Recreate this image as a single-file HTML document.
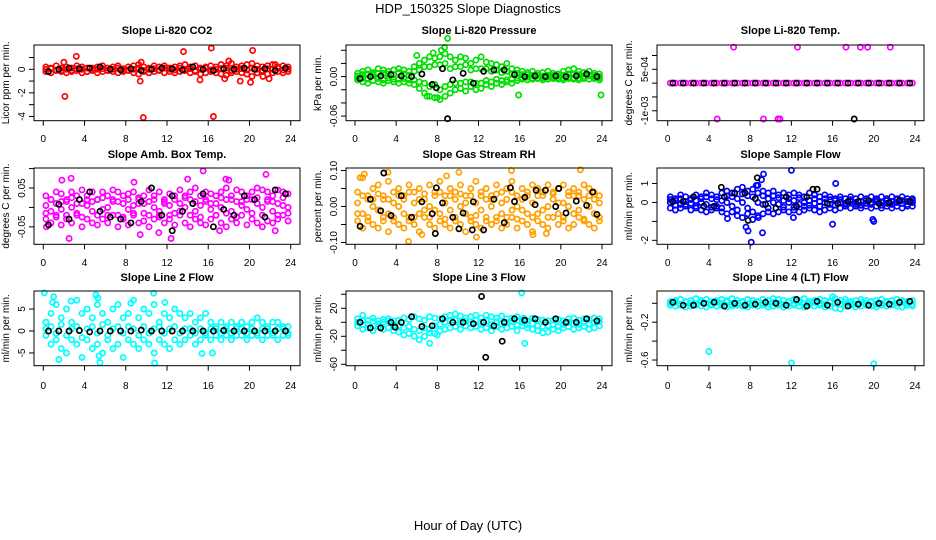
<!DOCTYPE html>
<html><head><meta charset="utf-8"><style>
body{margin:0;background:#fff;}
svg{display:block;font-family:"Liberation Sans",sans-serif;}
</style></head><body>
<svg id="c" width="936" height="540" viewBox="0 0 936 540">
<text x="468" y="13" text-anchor="middle" font-size="13">HDP_150325  Slope Diagnostics</text>
<text x="468" y="530" text-anchor="middle" font-size="13">Hour of Day (UTC)</text>
</svg>
<script>
const X48=[0.25,0.75,1.25,1.75,2.25,2.75,3.25,3.75,4.25,4.75,5.25,5.75,6.25,6.75,7.25,7.75,8.25,8.75,9.25,9.75,10.25,10.75,11.25,11.75,12.25,12.75,13.25,13.75,14.25,14.75,15.25,15.75,16.25,16.75,17.25,17.75,18.25,18.75,19.25,19.75,20.25,20.75,21.25,21.75,22.25,22.75,23.25,23.75];
const X24=[0.5,1.5,2.5,3.5,4.5,5.5,6.5,7.5,8.5,9.5,10.5,11.5,12.5,13.5,14.5,15.5,16.5,17.5,18.5,19.5,20.5,21.5,22.5,23.5];
const xTicks=[0,4,8,12,16,20,24];

const co2C1=[0.2,0.1,0.3,-0.1,0.2,0.1,0.3,0.2,-0.2,0.1,0.2,0.3,0.1,0.2,0.3,-0.1,0.2,0.3,0.4,0.2,0.1,0.3,0.2,0.3,0.1,0.2,0.3,0.4,0.2,0.3,0.1,0.2,0.3,0.2,0.4,0.3,0.5,0.2,0.3,0.4,0.5,0.3,0.2,0.3,0.4,0.2,0.3,0.2];
const co2C2=[-0.2,-0.3,-0.1,-0.2,-0.3,-0.2,-0.1,-0.3,-0.2,-0.1,-0.3,-0.2,-0.1,-0.2,-0.3,-0.2,-0.1,-0.3,-0.4,-0.2,-0.3,-0.2,-0.1,-0.3,-0.2,-0.3,-0.2,-0.1,-0.3,-0.2,-0.4,-0.3,-0.2,-0.3,-0.4,-0.5,-0.3,-0.2,-0.3,-0.4,-0.6,-0.3,-0.2,-0.4,-0.3,-0.2,-0.3,-0.2];
const co2C3=[0,0.05,-0.05,0.1,0,-0.1,0.05,0,0.1,-0.05,0,0.05,-0.1,0,0.1,0.05,-0.05,0,0.1,-0.1,0,0.05,-0.05,0.1,0,-0.05,0.1,0,0.05,-0.1,0,0.1,-0.05,0,0.05,0.1,-0.1,0,0.05,-0.05,0.1,0,-0.1,0.05,0,0.1,-0.05,0];
const co2K=[-0.2,0,0.1,0.05,0.1,0.2,0,-0.05,0.05,-0.1,0,0.1,0.05,-0.05,0.2,0,-0.1,0.05,0,0.1,0,0.05,-0.1,0.1];
const co2Out=[[2,0.6],[3.2,1.1],[2.1,-2.3],[9.5,0.6],[9.4,-1.0],[9.7,-4.1],[13.6,1.5],[15.2,-0.9],[16.3,1.8],[16.5,-4.0],[17.6,-0.8],[18,0.7],[19.1,-1.0],[20.1,-1.1],[20.3,1.6],[21.9,-0.8],[22.5,0.4],[21.3,-0.6]];
const co2KOut=[];

const presC1=[0.005,0.008,0.01,0.006,0.012,0.01,0.008,0.01,0.012,0.01,0.008,0.015,0.02,0.025,0.03,0.028,0.03,0.035,0.03,0.025,0.03,0.028,0.02,0.025,0.03,0.022,0.02,0.018,0.015,0.02,0.012,0.01,0.008,0.006,0.008,0.005,0.006,0.008,0.005,0.004,0.008,0.01,0.012,0.008,0.006,0.008,0.005,0.004];
const presC2=[-0.005,-0.008,-0.01,-0.006,-0.008,-0.01,-0.006,-0.008,-0.01,-0.008,-0.01,-0.012,-0.018,-0.025,-0.03,-0.032,-0.035,-0.03,-0.025,-0.02,-0.018,-0.022,-0.015,-0.02,-0.018,-0.012,-0.015,-0.01,-0.012,-0.008,-0.01,-0.006,-0.004,-0.005,-0.004,-0.003,-0.005,-0.004,-0.003,-0.004,-0.005,-0.003,-0.004,-0.005,-0.003,-0.004,-0.003,-0.005];
const presC3=[0.001,-0.002,0.004,0.002,-0.003,0.005,-0.002,0.003,-0.004,0.004,0.002,-0.005,0.01,-0.01,0.015,-0.012,0.018,-0.015,0.012,-0.01,0.015,-0.008,0.01,-0.01,0.012,-0.006,0.008,-0.004,0.006,-0.005,0.004,-0.002,0.003,-0.001,0.002,-0.002,0.001,0.002,-0.001,0.001,0.002,-0.001,0.003,-0.002,0.001,0.002,-0.001,0];
const presC4=[-0.002,0.003,-0.004,0.004,0.005,-0.005,0.004,-0.004,0.006,-0.003,-0.005,0.008,-0.008,0.015,-0.015,0.018,-0.02,0.02,-0.012,0.015,-0.01,0.018,-0.008,0.012,-0.01,0.012,-0.008,0.01,-0.006,0.008,-0.004,0.005,-0.002,0.003,-0.002,0.002,-0.002,-0.001,0.002,-0.002,-0.002,0.004,-0.002,0.003,-0.002,0.001,0.002,-0.002];
const presK=[-0.003,0,0.001,0.003,0.001,0,0.004,-0.012,0.012,-0.005,0.005,-0.01,0.008,0.01,0.01,0.003,0,0.001,0,0.001,0,0.001,0.004,0];
const presOut=[[9,0.058],[8.7,0.044],[8.4,0.04],[7.6,0.036],[6,0.032],[15.9,-0.028],[23.9,-0.028],[7,-0.03],[8,-0.032]];
const presKOut=[[9,-0.064],[7.9,-0.017]];

const tempC1=[0,0,0,0,0,0,0,0,0,0,0,0,0,0,0,0,0,0,0,0,0,0,0,0,0,0,0,0,0,0,0,0,0,0,0,0,0,0,0,0,0,0,0,0,0,0,0,0];
const tempK=[0,0,0,0,0,0,0,0,0,0,0,0,0,0,0,0,0,0,0,0,0,0,0,0];
const tempOut=[[6.4,13],[12.6,13],[17.3,13],[18.7,13],[19.4,13],[21.6,13],[4.8,-13],[9.3,-13],[10.7,-13],[10.9,-13]];
const tempKOut=[[18.1,-13]];

const ambC1=[0.03,0.02,0.04,0.035,0.02,0.04,0.03,0.045,0.03,0.04,0.02,0.04,0.03,0.045,0.04,0.03,0.035,0.04,0.02,0.03,0.045,0.03,0.04,0.02,0.035,0.03,0.045,0.03,0.04,0.05,0.03,0.04,0.035,0.03,0.04,0.05,0.03,0.045,0.04,0.03,0.04,0.05,0.045,0.04,0.03,0.045,0.04,0.035];
const ambC2=[-0.03,-0.04,-0.02,-0.045,-0.03,-0.04,-0.02,-0.05,-0.03,-0.04,-0.045,-0.03,-0.04,-0.02,-0.05,-0.03,-0.045,-0.02,-0.04,-0.035,-0.05,-0.03,-0.02,-0.04,-0.03,-0.045,-0.02,-0.04,-0.05,-0.03,-0.04,-0.045,-0.03,-0.02,-0.04,-0.05,-0.03,-0.04,-0.02,-0.045,-0.03,-0.04,-0.05,-0.035,-0.04,-0.03,-0.02,-0.035];
const ambC3=[0.005,-0.01,0.01,-0.005,0.015,0,-0.015,0.01,0.005,-0.01,0.02,-0.005,0,0.015,-0.02,0.01,-0.005,0.005,0.01,-0.015,0.015,0,-0.01,0.01,0.005,-0.015,0.01,0,0.02,-0.01,0.005,0.015,-0.005,0.01,0,0.02,-0.01,0.015,0.005,-0.005,0.02,0.01,0,0.015,-0.01,0.01,0.005,0];
const ambC4=[-0.015,0.02,-0.025,0.015,-0.02,0.025,0.01,-0.025,0.02,0.015,-0.02,0.025,-0.02,0.02,0.015,-0.025,0.02,-0.015,0.025,0.01,-0.02,0.02,-0.025,0.015,-0.02,0.02,-0.01,0.025,-0.02,0.015,-0.025,0.02,0.01,-0.02,0.025,-0.015,0.02,-0.025,0.015,0.02,-0.015,0.025,-0.02,0.02,0.015,-0.02,0.025,-0.015];
const ambK=[-0.045,0.008,-0.03,0.02,0.04,-0.01,-0.025,-0.03,-0.04,0.015,0.05,-0.02,0.03,-0.01,0.01,0.035,-0.05,-0.005,-0.02,0.03,0.02,-0.025,0.045,0.035];
const ambOut=[[1.8,0.07],[2.7,0.075],[2.5,-0.08],[12.4,-0.08],[9.4,-0.07],[15.5,0.094],[14,0.073],[17.7,0.073],[18,0.07],[21.6,0.085],[0.3,-0.05],[11.2,-0.065],[17.1,-0.06],[22.5,-0.06],[8.8,0.065]];
const ambKOut=[[12.5,-0.06]];

const rhC1=[0.04,0.08,0.03,0.05,0.06,0.02,0.07,0.04,0.05,0.03,0.06,0.04,0.05,0.02,0.06,0.04,0.07,0.03,0.05,0.04,0.06,0.03,0.05,0.07,0.04,0.05,0.03,0.06,0.04,0.05,0.07,0.03,0.05,0.04,0.06,0.05,0.03,0.06,0.04,0.05,0.06,0.03,0.05,0.04,0.06,0.05,0.04,0.03];
const rhC2=[-0.04,-0.06,-0.03,-0.05,-0.06,-0.04,-0.07,-0.03,-0.05,-0.06,-0.04,-0.05,-0.07,-0.03,-0.05,-0.06,-0.04,-0.05,-0.06,-0.03,-0.05,-0.07,-0.04,-0.05,-0.06,-0.03,-0.05,-0.04,-0.06,-0.05,-0.03,-0.06,-0.04,-0.05,-0.07,-0.04,-0.05,-0.06,-0.03,-0.05,-0.04,-0.06,-0.05,-0.03,-0.04,-0.05,-0.06,-0.03];
const rhC3=[0.01,-0.02,0.02,0,-0.01,0.03,-0.02,0.01,0,0.02,-0.03,0.01,0.02,-0.01,0,0.03,-0.02,0.01,-0.01,0.02,0,-0.02,0.03,0.01,-0.01,0.02,0,-0.03,0.01,0.02,-0.01,0,0.02,-0.02,0.01,0.03,-0.01,0,0.02,-0.02,0.01,0,0.03,-0.01,0.02,0,-0.02,0.01];
const rhC4=[-0.02,0.03,-0.04,0.02,0.035,-0.03,0.02,-0.04,0.03,-0.02,0.04,-0.03,-0.02,0.035,-0.03,-0.01,0.04,-0.035,0.03,-0.04,0.035,0.01,-0.03,-0.025,0.03,-0.04,0.02,0.035,-0.02,-0.03,0.04,-0.035,-0.01,0.03,-0.03,-0.02,0.04,-0.03,0.035,0.01,-0.03,0.04,-0.02,0.03,-0.035,0.03,0.02,-0.04];
const rhK=[-0.055,0.02,-0.012,-0.025,0.03,-0.03,0.013,-0.02,0.01,-0.03,-0.018,0.013,-0.065,0.02,-0.045,0.014,0.025,0.005,0.045,0.0,-0.018,0.015,0.003,-0.022];
const rhOut=[[0.5,0.08],[0.9,0.09],[3.2,0.095],[10.1,0.095],[15.2,0.1],[21.9,0.102],[5.2,-0.097],[11.8,-0.085],[6.5,-0.078],[17.3,-0.078],[18.6,-0.075],[8.9,0.085]];
const rhKOut=[[2.8,0.093],[7.9,0.052],[15.1,0.052],[17.6,0.045],[19.8,0.05],[23.1,0.04],[7.8,-0.075],[11.4,-0.065],[10.1,-0.062]];

const sfC1=[0.3,0.2,0.4,0.3,0.2,0.4,0.3,0.5,0.4,0.3,0.5,0.6,0.5,0.7,0.8,0.6,0.7,0.9,0.6,0.5,0.6,0.4,0.5,0.4,0.5,0.4,0.3,0.5,0.4,0.3,0.4,0.3,0.2,0.3,0.2,0.3,0.2,0.3,0.2,0.3,0.2,0.3,0.2,0.3,0.2,0.3,0.2,0.2];
const sfC2=[-0.3,-0.4,-0.3,-0.2,-0.4,-0.3,-0.4,-0.5,-0.4,-0.3,-0.5,-0.6,-0.5,-0.7,-0.8,-0.6,-0.9,-0.7,-0.6,-0.5,-0.6,-0.5,-0.4,-0.5,-0.4,-0.5,-0.4,-0.3,-0.4,-0.5,-0.4,-0.3,-0.4,-0.3,-0.2,-0.3,-0.2,-0.3,-0.2,-0.3,-0.2,-0.3,-0.2,-0.3,-0.2,-0.3,-0.2,-0.2];
const sfC3=[0,0.1,-0.1,0.05,-0.05,0.1,0,-0.1,0.2,-0.2,0.1,0,-0.2,0.2,0,-0.3,0.3,0,-0.1,0.2,0,-0.1,0.1,0,0.1,-0.1,0,0.1,-0.05,0.05,0,-0.1,0.1,0,-0.05,0.05,0,0.05,-0.05,0,0.05,0,-0.05,0.05,0,-0.05,0.05,0];
const sfC4=[0.15,-0.15,0.2,-0.1,0.15,-0.2,0.2,0.3,-0.25,0.15,-0.3,0.35,0.3,-0.4,0.45,0.35,-0.5,0.5,0.35,-0.3,0.35,0.25,-0.25,0.2,-0.25,0.25,-0.2,-0.15,0.2,-0.2,0.2,0.15,-0.15,0.15,-0.1,0.15,-0.1,-0.15,0.1,-0.1,0.15,-0.15,0.1,-0.1,0.15,0.1,-0.1,0.1];
const sfK=[0.05,0.05,0.3,-0.2,-0.2,0.3,0.5,0.5,0.2,-0.1,-0.3,0.3,-0.2,0.3,0.7,-0.05,-0.05,0.05,0.05,0.1,-0.05,0,0.1,0.05];
const sfOut=[[12,1.7],[9.3,1.5],[9.1,1.2],[8.6,0.9],[16.3,1],[7.6,-1.3],[7.8,-1.5],[8.1,-2.1],[9.2,-1.6],[16,-1.15],[19.9,-0.9],[20,-1],[5.8,-0.85],[8.8,-0.8],[12.2,-0.8]];
const sfKOut=[[8.7,1.3],[5.2,0.8],[7.8,-0.95],[14.1,0.7]];

const l2C1=[2,4,6,3,5,2,7,4,5,3,6,4,2,5,6,3,4,7,3,5,4,6,2,4,3,5,4,3,4,2,3,4,2,1,2,1,2,1,2,1,2,3,2,1,2,2,1,1];
const l2C2=[-1,-3,-2,-4,-5,-2,-3,-6,-2,-4,-3,-5,-2,-4,-3,-6,-2,-3,-4,-2,-3,-5,-2,-3,-4,-2,-3,-2,-1,-3,-2,-1,-2,-1,-2,-1,-2,-1,-1,-2,-1,-1,-2,-1,-1,-2,-1,-1];
const l2C3=[0.5,1,-0.5,1.5,-1,0.5,1,-1.5,0.5,1,-0.5,1.5,-1,0.5,1,-0.5,1,0.5,-1,1,-0.5,0.5,1,-0.5,0.5,1,-0.5,0.5,0.5,-0.5,0.5,-0.5,0.5,0.5,-0.5,0.5,-0.5,0.5,0.5,-0.5,0.5,-0.5,0.5,0.5,-0.5,0.5,0.5,-0.5];
const l2K=[0,0,0,0.1,-0.2,0,0,0,0,0.2,0,0,0,0,0,0,0,0.1,0,0,0,0,0,0];
const l2Out=[[0.1,8.7],[0.9,6.5],[1,7.8],[2.7,6.8],[5.1,8.2],[5.3,7.5],[10.7,8.6],[11.8,6.5],[1.5,-6.5],[5.5,-7.2],[10.8,-7.3],[5.4,-5.7],[16.4,-5],[15.4,-5.1],[8.5,6.3]];
const l2KOut=[];

const l3C1=[5,10,3,6,2,4,5,2,3,6,4,8,5,3,8,6,5,8,10,12,9,6,8,10,6,10,8,6,9,5,6,8,4,2,6,4,3,2,3,4,2,5,6,3,5,4,6,5];
const l3C2=[-5,-10,-8,-12,-6,-10,-8,-12,-14,-18,-16,-20,-25,-20,-30,-16,-12,-10,-8,-6,-10,-5,-8,-6,-10,-8,-12,-6,-10,-8,-6,-12,-5,-8,-10,-12,-15,-14,-10,-12,-8,-6,-10,-8,-6,-10,-8,-5];
const l3C3=[0,2,-3,1,-2,0,2,-4,-5,-8,-6,-10,-12,-8,-15,-5,-3,0,2,3,0,2,-2,3,0,2,-3,1,-2,0,2,-4,0,-3,-2,-5,-6,-5,-3,-6,-3,0,-2,-3,0,-2,0,1];
const l3K=[0,-8,-8,0,0,8,-6,-5,5,0,0,-2,0,-5,0,5,3,5,0,5,0,0,5,2];
const l3Out=[[16.2,42],[16.4,6],[16.5,-30],[8,-18],[7.2,-10]];
const l3KOut=[[12.3,37],[12.7,-50],[14.3,-27],[3.9,-7]];

const l4C1=[0.02,0.03,0.04,0.02,0.03,0.05,0.03,0.04,0.02,0.03,0.04,0.03,0.05,0.03,0.02,0.04,0.03,0.02,0.04,0.03,0.05,0.04,0.03,0.02,0.04,0.03,0.05,0.02,0.03,0.04,0.03,0.02,0.05,0.03,0.04,0.02,0.03,0.04,0.03,0.02,0.03,0.04,0.02,0.03,0.04,0.03,0.02,0.03];
const l4C2=[-0.02,-0.03,-0.02,-0.04,-0.03,-0.02,-0.03,-0.04,-0.02,-0.03,-0.02,-0.04,-0.03,-0.02,-0.03,-0.04,-0.02,-0.03,-0.02,-0.04,-0.03,-0.02,-0.04,-0.03,-0.02,-0.03,-0.04,-0.02,-0.03,-0.02,-0.04,-0.03,-0.05,-0.06,-0.03,-0.02,-0.04,-0.03,-0.02,-0.03,-0.04,-0.02,-0.03,-0.02,-0.03,-0.04,-0.02,-0.03];
const l4C3=[0,0.01,-0.01,0.01,0,-0.01,0.01,0,-0.01,0.01,0,0.01,-0.01,0,0.01,-0.01,0,0.01,0,-0.01,0.01,0,-0.01,0.01,0,0.01,-0.01,0,0.01,0,-0.01,0.01,0,-0.01,0.01,0,-0.01,0.01,0,0.01,-0.01,0,0.01,-0.01,0,0.01,0,-0.01];
const l4K=[0.01,-0.02,-0.02,0.0,0.01,-0.03,0,-0.02,-0.01,0.01,0.0,-0.02,0.04,-0.03,0.02,-0.02,0.01,-0.03,-0.01,-0.02,0.0,-0.01,0.01,0.02];
const l4Out=[[4,-0.51],[12,-0.63],[20,-0.64],[16,0.07]];
const l4KOut=[];

const svg=document.getElementById('c');
const NS='http://www.w3.org/2000/svg';
function mk(tag,attrs,parent){const e=document.createElementNS(NS,tag);for(const k in attrs)e.setAttribute(k,attrs[k]);parent.appendChild(e);return e;}

const cols=[{l:34,r:300,x0:43.3,x1:290.7},{l:346,r:612,x0:355,x1:602},{l:657,r:924,x0:667.7,x1:915}];
const rows=[{t:45,b:120.7,title:34,xl:138},{t:168,b:244.3,title:158,xl:262},{t:291,b:365.7,title:281,xl:385}];

const panels=[
 {name:'co2',title:'Slope Li-820 CO2',yl:'Licor ppm per min.',col:'#ff0000',c:[co2C1,co2C2,co2C3],k:co2K,out:co2Out,kout:co2KOut,ymin:-4.36,ymax:2.06,ticks:[1,0,-1,-2,-3,-4],labs:['0','-2','-4'],labv:[0,-2,-4]},
 {name:'pressure',title:'Slope Li-820 Pressure',yl:'kPa per min.',col:'#00e000',c:[presC1,presC2,presC3,presC4],k:presK,out:presOut,kout:presKOut,ymin:-0.067,ymax:0.048,ticks:[0.04,0.02,0,-0.02,-0.04,-0.06],labs:['0.00','-0.06'],labv:[0,-0.06]},
 {name:'licor-temp',title:'Slope Li-820 Temp.',yl:'degrees C per min.',col:'#ff00ff',c:[tempC1],k:tempK,out:tempOut,kout:tempKOut,ymin:-13.6,ymax:13.8,ticks:[10,5,0,-5,-10],labs:['5e-04','-1e-03'],labv:[5,-10]},
 {name:'amb-temp',title:'Slope Amb. Box Temp.',yl:'degrees C per min.',col:'#ff00ff',c:[ambC1,ambC2,ambC3,ambC4],k:ambK,out:ambOut,kout:ambKOut,ymin:-0.095,ymax:0.1015,ticks:[0.1,0.05,0,-0.05],labs:['0.05','-0.05'],labv:[0.05,-0.05]},
 {name:'gas-rh',title:'Slope Gas Stream RH',yl:'percent per min.',col:'#ffa000',c:[rhC1,rhC2,rhC3,rhC4],k:rhK,out:rhOut,kout:rhKOut,ymin:-0.105,ymax:0.107,ticks:[0.1,0.05,0,-0.05,-0.1],labs:['0.10','0.00','-0.10'],labv:[0.1,0,-0.1]},
 {name:'sample-flow',title:'Slope Sample Flow',yl:'ml/min per min.',col:'#0000ff',c:[sfC1,sfC2,sfC3,sfC4],k:sfK,out:sfOut,kout:sfKOut,ymin:-2.21,ymax:1.82,ticks:[1,0,-1,-2],labs:['1','0','-2'],labv:[1,0,-2]},
 {name:'line2-flow',title:'Slope Line 2 Flow',yl:'ml/min per min.',col:'#00ffff',c:[l2C1,l2C2,l2C3],k:l2K,out:l2Out,kout:l2KOut,ymin:-7.9,ymax:9.1,ticks:[5,0,-5],labs:['5','0','-5'],labv:[5,0,-5]},
 {name:'line3-flow',title:'Slope Line 3 Flow',yl:'ml/min per min.',col:'#00ffff',c:[l3C1,l3C2,l3C3],k:l3K,out:l3Out,kout:l3KOut,ymin:-62,ymax:44.7,ticks:[40,20,0,-20,-40,-60],labs:['20','-20','-60'],labv:[20,-20,-60]},
 {name:'line4-flow',title:'Slope Line 4 (LT) Flow',yl:'ml/min per min.',col:'#00ffff',c:[l4C1,l4C2,l4C3],k:l4K,out:l4Out,kout:l4KOut,ymin:-0.66,ymax:0.13,ticks:[0,-0.2,-0.4,-0.6],labs:['-0.2','-0.6'],labv:[-0.2,-0.6]}
];

panels.forEach((p,i)=>{
 const C=cols[i%3],R=rows[Math.floor(i/3)];
 const xs=v=>C.x0+(C.x1-C.x0)*v/24;
 const ys=v=>R.b-(R.b-R.t)*(v-p.ymin)/(p.ymax-p.ymin);
 const g=mk('g',{},svg);
 
 
 const t=mk('text',{x:(C.l+C.r)/2,y:R.title,'text-anchor':'middle','font-size':11,'font-weight':'bold'},g);
 t.textContent=p.title;
 
 
 const ylx=C.l-25;
 const yl=mk('text',{x:ylx,y:(R.t+R.b)/2,'text-anchor':'middle','font-size':10,transform:`rotate(-90 ${ylx} ${(R.t+R.b)/2})`},g);
 yl.textContent=p.yl;
 
 
 const pts=mk('g',{fill:'none','stroke-width':1.7},g);
 
 
 function dot(x,y,color,nm){
  const c=mk('circle',{cx:xs(x).toFixed(1),cy:ys(y).toFixed(1),r:2.6,stroke:color},pts);
  
  
 }
 p.c.forEach(arr=>arr.forEach((v,j)=>dot(X48[j],v,p.col,'point')));
 p.out.forEach(o=>dot(o[0],o[1],p.col,'outlier-point'));
 p.k.forEach((v,j)=>dot(X24[j],v,'#000','black-point'));
 p.kout.forEach(o=>dot(o[0],o[1],'#000','black-outlier'));
 const box=mk('rect',{x:C.l,y:R.t,width:C.r-C.l,height:R.b-R.t,fill:'none',stroke:'#000','stroke-width':1},g);
 
 
 xTicks.forEach(v=>{
  mk('line',{x1:xs(v),x2:xs(v),y1:R.b,y2:R.b+5,stroke:'#000'},g);
  const tl=mk('text',{x:xs(v),y:R.xl+4,'text-anchor':'middle','font-size':10},g);
  tl.textContent=v;
  
  
 });
 p.ticks.forEach(v=>mk('line',{x1:C.l-5,x2:C.l,y1:ys(v),y2:ys(v),stroke:'#000'},g));
 p.labv.forEach((v,j)=>{
  const x=C.l-9,y=ys(v);
  const tl=mk('text',{x:x,y:y,'text-anchor':'middle','font-size':10,transform:`rotate(-90 ${x} ${y})`},g);
  tl.textContent=p.labs[j];
  
  
 });
});
</script>
</body></html>
